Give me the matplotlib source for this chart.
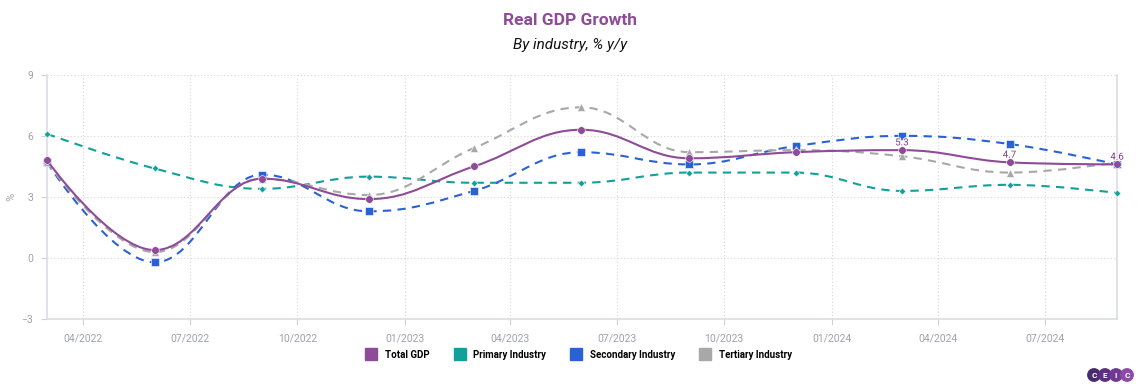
import numpy as np
import pandas as pd
import matplotlib.pyplot as plt
import matplotlib.dates as mdates
import matplotlib.patheffects as pe
from matplotlib.path import Path
from matplotlib.patches import PathPatch, Circle
from matplotlib.lines import Line2D

plt.rcParams['font.family'] = ['Roboto', 'DejaVu Sans']

# quarterly observations
dates = pd.date_range("2022-03-01", "2024-09-01", freq="3MS")
total_gdp = [4.8, 0.4, 3.9, 2.9, 4.5, 6.3, 4.9, 5.2, 5.3, 4.7, 4.6]
primary = [6.1, 4.4, 3.4, 4.0, 3.7, 3.7, 4.2, 4.2, 3.3, 3.6, 3.2]
secondary = [4.7, -0.2, 4.1, 2.3, 3.3, 5.2, 4.6, 5.5, 6.0, 5.6, 4.6]
tertiary = [4.7, 0.3, 3.9, 3.1, 5.4, 7.4, 5.2, 5.3, 5.0, 4.2, 4.7]
labelled_idx = [8, 9, 10]  # data labels on total GDP

series = [
    ("Total GDP", total_gdp, "#8e4b97", "-", "o", 5.5),
    ("Primary Industry", primary, "#11a09a", (0, (4, 3)), "D", 3.5),
    ("Secondary Industry", secondary, "#2a62d6", (0, (4, 3)), "s", 5.5),
    ("Tertiary Industry", tertiary, "#a8a8a8", (0, (4, 3)), "^", 5.5),
]


def spline_path(x, y, smoothing=1.5):
    # highcharts style spline: cubic bezier with smoothed control points
    n = len(x)
    denom = smoothing + 1
    lc = [(x[i], y[i]) for i in range(n)]
    rc = [(x[i], y[i]) for i in range(n)]
    for i in range(1, n - 1):
        px, py = x[i], y[i]
        lx = (smoothing * px + x[i - 1]) / denom
        ly = (smoothing * py + y[i - 1]) / denom
        rx = (smoothing * px + x[i + 1]) / denom
        ry = (smoothing * py + y[i + 1]) / denom
        if rx != lx:
            corr = (ry - ly) * (rx - px) / (rx - lx) + py - ry
            ly += corr
            ry += corr
        if ly > y[i - 1] and ly > py:
            ly = max(y[i - 1], py)
            ry = 2 * py - ly
        elif ly < y[i - 1] and ly < py:
            ly = min(y[i - 1], py)
            ry = 2 * py - ly
        if ry > y[i + 1] and ry > py:
            ry = max(y[i + 1], py)
            ly = 2 * py - ry
        elif ry < y[i + 1] and ry < py:
            ry = min(y[i + 1], py)
            ly = 2 * py - ry
        lc[i] = (lx, ly)
        rc[i] = (rx, ry)
    verts = [(x[0], y[0])]
    codes = [Path.MOVETO]
    for i in range(1, n):
        verts += [rc[i - 1], lc[i], (x[i], y[i])]
        codes += [Path.CURVE4] * 3
    return Path(verts, codes)


fig = plt.figure(figsize=(11.4, 3.9), dpi=100)
ax = fig.add_axes([0.0412, 0.181, 0.9388, 0.6275])

xnum = mdates.date2num(dates)
for i, (name, vals, color, ls, mk, ms) in enumerate(series):
    z = 5 if i == 0 else 3
    patch = PathPatch(spline_path(xnum, np.array(vals, float)), facecolor="none",
                      edgecolor=color, lw=1.5, linestyle=ls, zorder=z)
    ax.add_patch(patch)
    ax.plot(dates, vals, linestyle="none", marker=mk, markersize=ms, color=color,
            markeredgecolor="white", markeredgewidth=0.4, zorder=z + 1,
            clip_on=False)

for i in labelled_idx:
    ax.annotate(f"{total_gdp[i]}", (dates[i], total_gdp[i]), xytext=(0, 2),
                textcoords="offset points", ha="center", va="bottom",
                fontsize=7, color="#7d3f88", zorder=9, annotation_clip=False,
                path_effects=[pe.withStroke(linewidth=1.5, foreground="white")])

ax.set_xlim(dates[0], dates[-1])
ax.set_ylim(-3, 9)
ax.set_yticks([-3, 0, 3, 6, 9])
ax.xaxis.set_major_locator(mdates.MonthLocator(bymonth=[1, 4, 7, 10]))
ax.xaxis.set_major_formatter(mdates.DateFormatter("%m/%Y"))
ax.grid(True, linestyle=(0, (1, 2)), color="#d6d6d6", linewidth=0.8)
ax.tick_params(axis="both", labelsize=7.5, colors="#a0a0b0", length=4,
               width=0.8, pad=6)
ax.tick_params(axis="y", length=4, color="#d0d0d8")
ax.tick_params(axis="x", color="#d0d0d8")
ax.spines["top"].set_visible(False)
for side in ["left", "right", "bottom"]:
    ax.spines[side].set_color("#dcdce4")
    ax.spines[side].set_linewidth(1.2)
ax.set_ylabel("%", fontsize=8, color="#a0a0b0")
ax.yaxis.set_label_coords(-0.029, 0.5)

fig.text(0.5, 0.948, "Real GDP Growth", ha="center", va="center",
         fontsize=12.5, fontweight="bold", color="#8e4b97")
fig.text(0.5, 0.885, "By industry, % y/y", ha="center", va="center",
         fontsize=11, style="italic", color="#111111")

handles = [Line2D([], [], linestyle="none", marker="s", markersize=8, color=c,
                  markeredgecolor=c) for _, _, c, _, _, _ in series]
labels = [s[0] for s in series]
fig.legend(handles, labels, loc="center", bbox_to_anchor=(0.506, 0.09), ncol=4,
           frameon=False, handletextpad=0.4, columnspacing=2.1,
           prop={"weight": "bold", "size": 7})

# CEIC logo
logo_cols = ["#4a2a6e", "#5b3082", "#6e3a94", "#8a4ca8"]
for k, (ch, c) in enumerate(zip("CEIC", logo_cols)):
    cx, cy = 1094 + k * 11, 390 - 375
    circ = Circle((cx, cy), 6.2, transform=None, color=c, zorder=10)
    fig.patches.append(circ)
    fig.text(cx / 1140, cy / 390, ch, ha="center", va="center", fontsize=6,
             color="white", fontweight="bold", zorder=11)

fig.savefig("out.png", dpi=100)
